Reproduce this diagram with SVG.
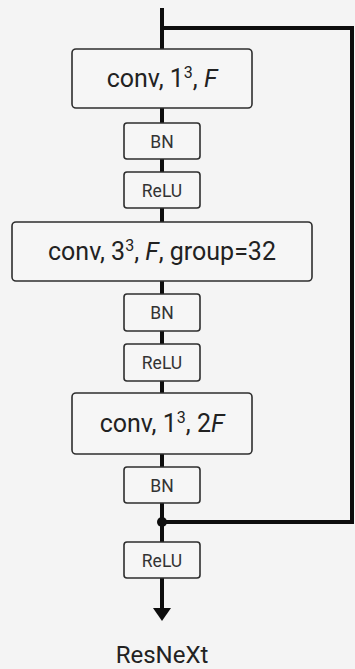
<svg xmlns="http://www.w3.org/2000/svg" width="355" height="669" viewBox="0 0 355 669">
  <style>
    .bg { fill: #f4f4f4; }
    .wire { fill: none; stroke: #0d0d0d; stroke-width: 4; }
    .box { fill: #f6f6f6; stroke: #2e2e2e; stroke-width: 1.6; }
    .lbl { font-family: Roboto, "Liberation Sans", sans-serif; fill: #222; text-anchor: middle; }
    .big { font-size: 25px; }
    .small { font-size: 17.5px; fill: #333; }
    .sup { font-size: 16px; }
    .title { font-size: 24px; fill: #222; }
  </style>
  <rect class="bg" x="0" y="0" width="355" height="669"/>

  <g id="connectors">
    <line class="wire" x1="162" y1="8" x2="162" y2="608"/>
    <path d="M153,608 L171,608 L162,621 Z" fill="#0d0d0d"/>
    <path class="wire" d="M162,28 H352 V522 H162"/>
    <circle cx="162" cy="522" r="5" fill="#0d0d0d"/>
  </g>

  <g id="conv1">
    <rect class="box" x="72" y="49" width="180" height="59" rx="4"/>
    <text class="lbl big" x="162" y="87">conv, 1<tspan class="sup" dy="-9">3</tspan><tspan dy="9">, </tspan><tspan font-style="italic">F</tspan></text>
  </g>
  <g id="bn1">
    <rect class="box" x="124" y="123" width="76" height="36" rx="3"/>
    <text class="lbl small" x="162" y="147.5">BN</text>
  </g>
  <g id="relu1">
    <rect class="box" x="124" y="172" width="76" height="36" rx="3"/>
    <text class="lbl small" x="162" y="196.5">ReLU</text>
  </g>
  <g id="conv2">
    <rect class="box" x="12" y="222" width="300" height="59" rx="4"/>
    <text class="lbl big" x="162" y="260">conv, 3<tspan class="sup" dy="-9">3</tspan><tspan dy="9">, </tspan><tspan font-style="italic">F</tspan>, group=32</text>
  </g>
  <g id="bn2">
    <rect class="box" x="124" y="294" width="76" height="37" rx="3"/>
    <text class="lbl small" x="162" y="318.5">BN</text>
  </g>
  <g id="relu2">
    <rect class="box" x="124" y="344" width="76" height="37" rx="3"/>
    <text class="lbl small" x="162" y="368.5">ReLU</text>
  </g>
  <g id="conv3">
    <rect class="box" x="72" y="393" width="180" height="61" rx="4"/>
    <text class="lbl big" x="162" y="432">conv, 1<tspan class="sup" dy="-9">3</tspan><tspan dy="9">, 2</tspan><tspan font-style="italic">F</tspan></text>
  </g>
  <g id="bn3">
    <rect class="box" x="124" y="467" width="76" height="36" rx="3"/>
    <text class="lbl small" x="162" y="491.5">BN</text>
  </g>
  <g id="relu3">
    <rect class="box" x="124" y="542" width="76" height="36" rx="3"/>
    <text class="lbl small" x="162" y="566.5">ReLU</text>
  </g>

  <g id="caption">
    <text class="lbl title" x="162" y="663">ResNeXt</text>
  </g>
</svg>
